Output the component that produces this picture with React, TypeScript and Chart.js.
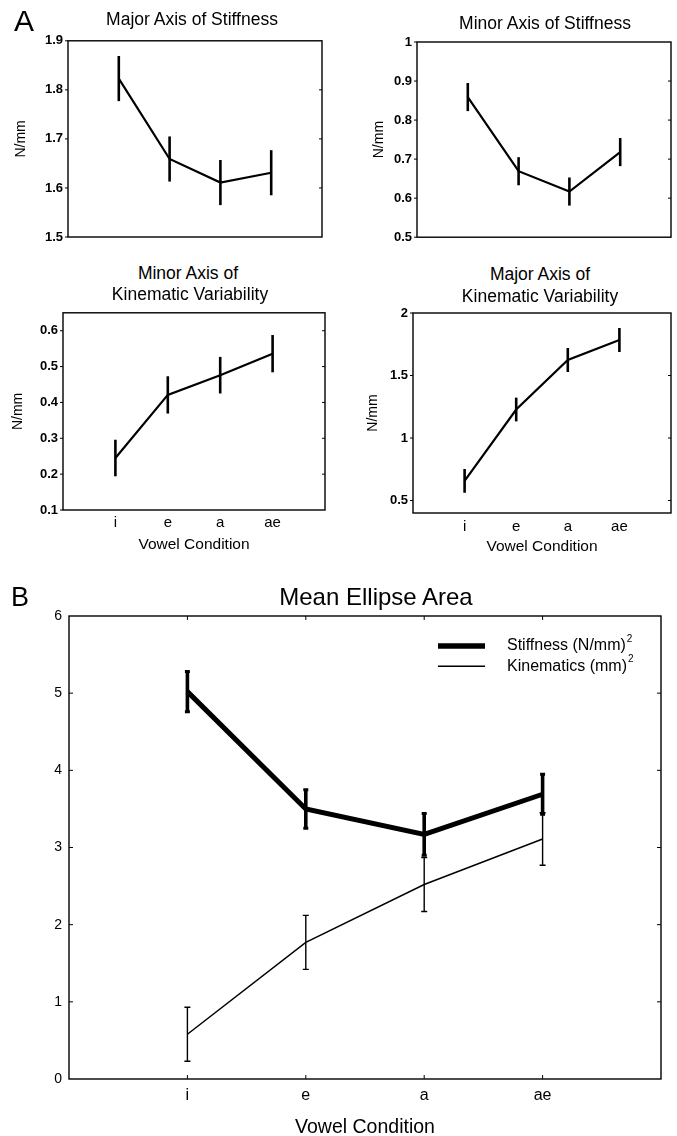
import React, { useEffect, useRef } from "react";
import { Chart, registerables } from "chart.js";

Chart.register(...registerables);

const FONT = '"Liberation Sans", Arial, Helvetica, sans-serif';

// ---------- data ----------
const vowels = ["i", "e", "a", "ae"];
const xPositions = [1, 2, 3, 4];

const majorStiffMean = [1.823, 1.659, 1.611, 1.631];
const majorStiffErr = [0.046, 0.046, 0.046, 0.046];

const minorStiffMean = [0.859, 0.669, 0.617, 0.718];
const minorStiffErr = [0.036, 0.036, 0.036, 0.036];

const minorKinMean = [0.245, 0.421, 0.476, 0.536];
const minorKinErr = [0.051, 0.052, 0.051, 0.052];

const majorKinMean = [0.657, 1.228, 1.624, 1.784];
const majorKinErr = [0.095, 0.095, 0.096, 0.096];

const stiffAreaMean = [5.02, 3.5, 3.17, 3.69];
const stiffAreaErr = [0.26, 0.25, 0.27, 0.26];
const kinAreaMean = [0.58, 1.77, 2.52, 3.11];
const kinAreaErr = [0.35, 0.35, 0.35, 0.34];

const majorStiffTicks = [1.5, 1.6, 1.7, 1.8, 1.9];
const minorStiffTicks = [0.5, 0.6, 0.7, 0.8, 0.9, 1];
const minorKinTicks = [0.1, 0.2, 0.3, 0.4, 0.5, 0.6];
const majorKinTicks = [0.5, 1, 1.5, 2];
const areaTicks = [0, 1, 2, 3, 4, 5, 6];

const areaSeriesNames = ["Stiffness (N/mm)", "Kinematics (mm)"];
const areaSeriesSup = ["2", "2"];

// ---------- types ----------
type Rect = { x: number; y: number; w: number; h: number };
type Area = { l: number; t: number; r: number; b: number };
type Font = { family: string; size: number; weight?: string | number; lineHeight: number };
type Series = {
  means: number[];
  errs: number[];
  lineWidth: number;
  errWidth: number;
  capWidth: number;
  capLineWidth: number;
};
type PanelSpec = {
  canvas: Rect;
  area: Area;
  yMin: number;
  yMax: number;
  yTicks: number[];
  series: Series[];
  yTickFont: Font;
  yTickPad: number;
  yTitle?: { text: string; font: Font; centerX: number };
  xLabels?: { font: Font; centerY: number; title: string; titleFont: Font; titleCenterY: number };
  frameWidth: number;
  sides: { left: boolean; right: boolean; top: boolean; bottom: boolean };
  leftOutward: boolean;
  tickLen: number;
  legend?: {
    lineFrom: number;
    lineTo: number;
    textFrom: number;
    dy: number;
    gap: number;
    fontSize: number;
    supSize: number;
    lineWidths: number[];
  };
};

const f = (size: number, weight: string | number = "normal"): Font => ({
  family: FONT,
  size,
  weight,
  lineHeight: 1.2,
});

function makePlugin(spec: PanelSpec) {
  return {
    id: "frameDeco",
    afterDatasetsDraw(chart: any) {
      const { ctx, chartArea: a, scales } = chart;
      const xs = scales.x;
      const ys = scales.y;
      ctx.save();
      ctx.strokeStyle = "#000";
      ctx.fillStyle = "#000";
      // error bars
      chart.data.datasets.forEach((ds: any) => {
        const errs: number[] = ds.errors;
        if (!errs) return;
        ds.data.forEach((p: any, i: number) => {
          const px = xs.getPixelForValue(p.x);
          const yTop = ys.getPixelForValue(p.y + errs[i]);
          const yBot = ys.getPixelForValue(p.y - errs[i]);
          ctx.lineWidth = ds.errWidth;
          ctx.lineCap = "butt";
          ctx.beginPath();
          ctx.moveTo(px, yTop);
          ctx.lineTo(px, yBot);
          ctx.stroke();
          if (ds.capWidth > 0) {
            ctx.lineWidth = ds.capLineWidth;
            ctx.beginPath();
            ctx.moveTo(px - ds.capWidth / 2, yTop);
            ctx.lineTo(px + ds.capWidth / 2, yTop);
            ctx.moveTo(px - ds.capWidth / 2, yBot);
            ctx.lineTo(px + ds.capWidth / 2, yBot);
            ctx.stroke();
          }
        });
      });
      // frame
      ctx.lineWidth = spec.frameWidth;
      ctx.strokeRect(a.left, a.top, a.right - a.left, a.bottom - a.top);
      // ticks
      const len = spec.tickLen;
      ctx.lineWidth = 1;
      ctx.beginPath();
      ys.ticks.forEach((t: any) => {
        const py = ys.getPixelForValue(t.value);
        if (spec.sides.left) {
          if (spec.leftOutward) {
            ctx.moveTo(a.left - len, py);
            ctx.lineTo(a.left, py);
          } else if (py > a.top + 1 && py < a.bottom - 1) {
            ctx.moveTo(a.left, py);
            ctx.lineTo(a.left + len, py);
          }
        }
        if (spec.sides.right && py > a.top + 1 && py < a.bottom - 1) {
          ctx.moveTo(a.right, py);
          ctx.lineTo(a.right - len, py);
        }
      });
      xs.ticks.forEach((t: any) => {
        const px = xs.getPixelForValue(t.value);
        if (spec.sides.top) {
          ctx.moveTo(px, a.top);
          ctx.lineTo(px, a.top + len);
        }
        if (spec.sides.bottom) {
          ctx.moveTo(px, a.bottom);
          ctx.lineTo(px, a.bottom - len);
        }
      });
      ctx.stroke();
      // legend
      const lg = spec.legend;
      if (lg) {
        areaSeriesNames.forEach((name, i) => {
          const y = a.top + lg.dy + i * lg.gap;
          ctx.lineWidth = lg.lineWidths[i];
          ctx.beginPath();
          ctx.moveTo(a.right - lg.lineFrom, y);
          ctx.lineTo(a.right - lg.lineTo, y);
          ctx.stroke();
          ctx.font = `${lg.fontSize}px ${FONT}`;
          ctx.textBaseline = "middle";
          ctx.textAlign = "left";
          const tx = a.right - lg.textFrom;
          ctx.fillText(name, tx, y);
          const w = ctx.measureText(name).width;
          ctx.font = `${lg.supSize}px ${FONT}`;
          ctx.fillText(areaSeriesSup[i], tx + w + 1, y - 7);
        });
      }
      ctx.restore();
    },
  };
}

function buildConfig(spec: PanelSpec): any {
  const c = spec.canvas;
  const a = spec.area;
  const datasets = spec.series.map((s) => ({
    data: s.means.map((m, i) => ({ x: xPositions[i], y: m })),
    errors: s.errs,
    borderColor: "#000",
    backgroundColor: "#000",
    borderWidth: s.lineWidth,
    pointRadius: 0,
    pointHoverRadius: 0,
    fill: false,
    tension: 0,
    errWidth: s.errWidth,
    capWidth: s.capWidth,
    capLineWidth: s.capLineWidth,
  }));

  const x: any = {
    type: "linear",
    min: 0,
    max: 5,
    bounds: "data",
    display: !!spec.xLabels,
    grid: { display: false, drawTicks: false },
    border: { display: false },
    afterBuildTicks: (s: any) => {
      s.ticks = xPositions.map((v) => ({ value: v }));
    },
  };
  if (spec.xLabels) {
    const xl = spec.xLabels;
    x.afterFit = (s: any) => {
      s.height = c.y + c.h - a.b;
    };
    x.ticks = {
      color: "#000",
      font: xl.font,
      padding: xl.centerY - a.b - (xl.font.size * 1.2) / 2,
      maxRotation: 0,
      autoSkip: false,
      callback: (v: number) => {
        const idx = xPositions.indexOf(v);
        return idx >= 0 ? vowels[idx] : "";
      },
    };
    x.title = {
      display: true,
      text: xl.title,
      color: "#000",
      font: xl.titleFont,
      padding: { top: 0, bottom: c.y + c.h - xl.titleCenterY - (xl.titleFont.size * 1.2) / 2 },
    };
  }

  const y: any = {
    type: "linear",
    min: spec.yMin,
    max: spec.yMax,
    bounds: "data",
    grid: { display: false, drawTicks: false },
    border: { display: false },
    afterBuildTicks: (s: any) => {
      s.ticks = spec.yTicks.map((v) => ({ value: v }));
    },
    afterFit: (s: any) => {
      s.width = a.l - c.x;
    },
    ticks: {
      color: "#000",
      font: spec.yTickFont,
      padding: spec.yTickPad,
      autoSkip: false,
      callback: (v: number) => String(v),
    },
    title: spec.yTitle
      ? {
          display: true,
          text: spec.yTitle.text,
          color: "#000",
          font: spec.yTitle.font,
          padding: { top: spec.yTitle.centerX - c.x - (spec.yTitle.font.size * 1.2) / 2, bottom: 0 },
        }
      : { display: false },
  };

  return {
    type: "line",
    data: { datasets },
    options: {
      responsive: false,
      maintainAspectRatio: false,
      animation: false,
      events: [],
      layout: {
        padding: {
          left: 0,
          top: a.t - c.y,
          right: c.x + c.w - a.r,
          bottom: spec.xLabels ? 0 : c.y + c.h - a.b,
        },
      },
      plugins: {
        legend: { display: false },
        tooltip: { enabled: false },
        title: { display: false },
      },
      scales: { x, y },
    },
    plugins: [makePlugin(spec)],
  };
}

const thinA = (means: number[], errs: number[]): Series => ({
  means,
  errs,
  lineWidth: 2.2,
  errWidth: 2.6,
  capWidth: 0,
  capLineWidth: 0,
});

const sidesA = { left: true, right: true, top: false, bottom: false };

const panels: PanelSpec[] = [
  {
    canvas: { x: 0, y: 28, w: 338, h: 222 },
    area: { l: 68, t: 39, r: 322, b: 237 },
    yMin: 1.5,
    yMax: 1.9,
    yTicks: majorStiffTicks,
    series: [thinA(majorStiffMean, majorStiffErr)],
    yTickFont: f(13, "bold"),
    yTickPad: 5,
    yTitle: { text: "N/mm", font: f(14), centerX: 21 },
    frameWidth: 1.4,
    sides: sidesA,
    leftOutward: true,
    tickLen: 3,
  },
  {
    canvas: { x: 340, y: 28, w: 337, h: 222 },
    area: { l: 417, t: 42, r: 671, b: 239 },
    yMin: 0.5,
    yMax: 1,
    yTicks: minorStiffTicks,
    series: [thinA(minorStiffMean, minorStiffErr)],
    yTickFont: f(13, "bold"),
    yTickPad: 5,
    yTitle: { text: "N/mm", font: f(14), centerX: 379 },
    frameWidth: 1.4,
    sides: sidesA,
    leftOutward: true,
    tickLen: 3,
  },
  {
    canvas: { x: 0, y: 300, w: 338, h: 260 },
    area: { l: 63, t: 311, r: 325, b: 510 },
    yMin: 0.1,
    yMax: 0.65,
    yTicks: minorKinTicks,
    series: [thinA(minorKinMean, minorKinErr)],
    yTickFont: f(13, "bold"),
    yTickPad: 5,
    yTitle: { text: "N/mm", font: f(14), centerX: 18 },
    xLabels: {
      font: f(15),
      centerY: 523,
      title: "Vowel Condition",
      titleFont: f(15.5),
      titleCenterY: 545,
    },
    frameWidth: 1.4,
    sides: sidesA,
    leftOutward: true,
    tickLen: 3,
  },
  {
    canvas: { x: 340, y: 300, w: 337, h: 260 },
    area: { l: 413, t: 313, r: 671, b: 513 },
    yMin: 0.4,
    yMax: 2,
    yTicks: majorKinTicks,
    series: [thinA(majorKinMean, majorKinErr)],
    yTickFont: f(13, "bold"),
    yTickPad: 5,
    yTitle: { text: "N/mm", font: f(14), centerX: 373 },
    xLabels: {
      font: f(15),
      centerY: 527,
      title: "Vowel Condition",
      titleFont: f(15.5),
      titleCenterY: 547,
    },
    frameWidth: 1.4,
    sides: sidesA,
    leftOutward: true,
    tickLen: 3,
  },
  {
    canvas: { x: 0, y: 600, w: 677, h: 540 },
    area: { l: 69, t: 616, r: 661, b: 1079 },
    yMin: 0,
    yMax: 6,
    yTicks: areaTicks,
    series: [
      {
        means: stiffAreaMean,
        errs: stiffAreaErr,
        lineWidth: 5,
        errWidth: 3.6,
        capWidth: 5,
        capLineWidth: 3,
      },
      {
        means: kinAreaMean,
        errs: kinAreaErr,
        lineWidth: 1.5,
        errWidth: 1.4,
        capWidth: 6,
        capLineWidth: 1.4,
      },
    ],
    yTickFont: f(14),
    yTickPad: 7,
    xLabels: {
      font: f(16),
      centerY: 1096,
      title: "Vowel Condition",
      titleFont: f(19.5),
      titleCenterY: 1128,
    },
    frameWidth: 1.4,
    sides: { left: true, right: true, top: true, bottom: true },
    leftOutward: false,
    tickLen: 4,
    legend: {
      lineFrom: 223,
      lineTo: 176,
      textFrom: 154,
      dy: 30,
      gap: 20.3,
      fontSize: 16,
      supSize: 10,
      lineWidths: [5.5, 1.5],
    },
  },
];

function ChartPanel({ spec }: { spec: PanelSpec }) {
  const ref = useRef<HTMLCanvasElement | null>(null);
  useEffect(() => {
    if (!ref.current) return;
    const chart = new Chart(ref.current, buildConfig(spec));
    return () => chart.destroy();
  }, [spec]);
  const c = spec.canvas;
  return (
    <canvas
      ref={ref}
      width={c.w}
      height={c.h}
      style={{ position: "absolute", left: c.x, top: c.y, width: c.w, height: c.h }}
    />
  );
}

function Label({ text, x, y, size }: { text: string; x: number; y: number; size: number }) {
  return (
    <div
      style={{
        position: "absolute",
        left: x,
        top: y,
        transform: "translate(-50%, -50%)",
        fontSize: size,
        lineHeight: 1,
        whiteSpace: "nowrap",
        fontFamily: FONT,
        color: "#000",
      }}
    >
      {text}
    </div>
  );
}

const labels = [
  { text: "A", x: 24, y: 21, size: 30 },
  { text: "Major Axis of Stiffness", x: 192, y: 20, size: 17.5 },
  { text: "Minor Axis of Stiffness", x: 545, y: 24, size: 17.5 },
  { text: "Minor Axis of", x: 188, y: 274, size: 17.5 },
  { text: "Kinematic Variability", x: 190, y: 295, size: 17.5 },
  { text: "Major Axis of", x: 540, y: 275, size: 17.5 },
  { text: "Kinematic Variability", x: 540, y: 297, size: 17.5 },
  { text: "B", x: 20, y: 597, size: 27 },
  { text: "Mean Ellipse Area", x: 376, y: 597, size: 24 },
];

export default function App() {
  return (
    <div
      style={{
        position: "absolute",
        left: 0,
        top: 0,
        width: 677,
        height: 1136,
        overflow: "hidden",
        background: "#fff",
        fontFamily: FONT,
      }}
    >
      {panels.map((p, i) => (
        <ChartPanel key={i} spec={p} />
      ))}
      {labels.map((l, i) => (
        <Label key={"l" + i} {...l} />
      ))}
    </div>
  );
}
